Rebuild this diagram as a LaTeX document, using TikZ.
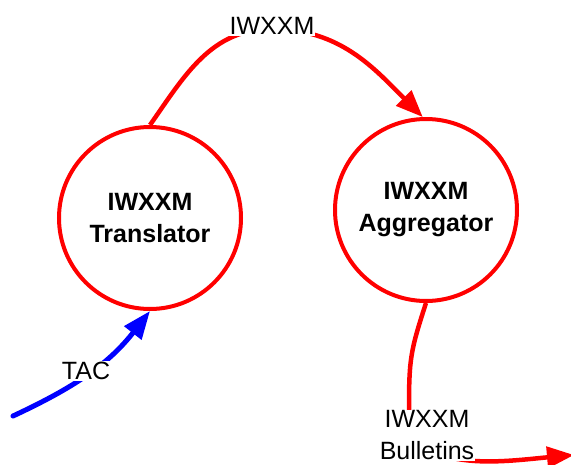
\documentclass[tikz,border=0pt]{standalone}
\usepackage{fontspec}
\setmainfont{Liberation Sans}
\usetikzlibrary{arrows.meta}
\pgfdeclarelayer{bg}
\pgfsetlayers{bg,main}
\begin{document}
\begin{tikzpicture}[x=1pt,y=-1pt,
  proc/.style={circle, draw=red, line width=4pt, minimum size=182pt, inner sep=0pt,
    font=\bfseries\fontsize{25}{32}\selectfont, align=center},
  lbl/.style={fill=white, inner sep=1pt, font=\fontsize{25}{32}\selectfont, align=center},
  redflow/.style={draw=red, line width=4.5pt, -{Triangle[length=27pt,width=21pt]}},
  blueflow/.style={draw=blue, line width=5pt, line cap=round, -{Triangle[length=28pt,width=21pt]}}]
\useasboundingbox (0,0) rectangle (571,464);
\node[proc] (T) at (150,218) {IWXXM\\Translator};
\node[proc] (A) at (426,210) {IWXXM\\Aggregator};
\node[lbl] (L1) at (272,26) {IWXXM};
\node[lbl] (L2) at (86,371) {TAC};
\node[lbl] (L3) at (427,435.5) {IWXXM\\Bulletins};
\coordinate (tac0) at (13,416);
\coordinate (out0) at (574,455);
\begin{pgfonlayer}{bg}
\draw[redflow] (T.north) to[out=55,in=180] ([yshift=-3pt]L1.center) to[out=0,in=135] (A.92);
\draw[blueflow] (tac0) to[out=25,in=-128] (T.south);
\draw[redflow] (A.south) to[out=-108,in=90,looseness=1.2] ([xshift=-18pt]L3.north) to[out=-90,in=185] (out0);
\end{pgfonlayer}
\end{tikzpicture}
\end{document}
